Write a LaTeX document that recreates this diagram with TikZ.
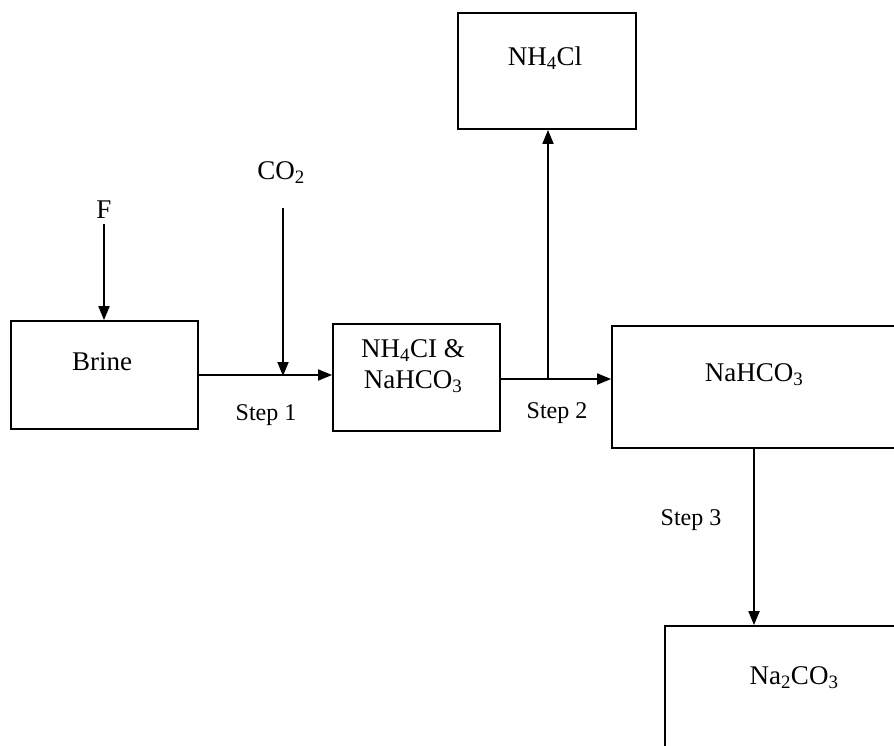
\documentclass[tikz,border=0pt]{standalone}
\usepackage{fontspec}
\setmainfont{Liberation Serif}
\usetikzlibrary{arrows.meta}
\begin{document}
\begin{tikzpicture}[x=1pt,y=-1pt,
  box/.style={draw,line width=1.8pt,minimum width=#1,inner sep=0pt},
  chem/.style={font=\fontsize{27}{30}\selectfont,inner sep=1pt},
  steplabel/.style={font=\fontsize{24}{26}\selectfont,inner sep=1pt},
  conn/.style={line width=1.8pt},
  arr/.style={conn,-{Triangle[length=14pt,width=11pt]}}]
\useasboundingbox (0,0) rectangle (894,745);
\clip (0,0) rectangle (894,745);
\fill[white] (0,0) rectangle (894,745);
% boxes
\node[box=178pt,minimum height=116pt] (nh4cl) at (547,71) {};
\node[box=187pt,minimum height=108pt] (brine) at (104.5,375) {};
\node[box=167pt,minimum height=107pt] (mid) at (416.5,377.5) {};
\node[box=300pt,minimum height=122pt] (nahco) at (762,387) {};
\node[box=260pt,minimum height=160pt] (naco) at (795,706) {};
% texts
\node[chem] (t1) at (545,58) {NH\textsubscript{4}Cl};
\node[chem] (co2) at (281,173) {CO\textsubscript{2}};
\node[chem] (f) at (104,210) {F};
\node[chem] (t2) at (102,362) {Brine};
\node[chem,align=center,font=\fontsize{27}{31}\selectfont] (t3) at (413,366) {NH\textsubscript{4}CI \&\\NaHCO\textsubscript{3}};
\node[chem] (t4) at (754,375) {NaHCO\textsubscript{3}};
\node[chem] (t5) at (794,678) {Na\textsubscript{2}CO\textsubscript{3}};
\node[steplabel] (s1) at (266,415) {Step 1};
\node[steplabel] (s2) at (557,413) {Step 2};
\node[steplabel] (s3) at (691,520) {Step 3};
% connectors
\coordinate (fstart) at (104,224);
\draw[arr] (fstart) -- (fstart |- brine.north);
\draw[arr] (brine.east) -- (brine.east -| mid.west);
\coordinate (cstart) at (283,208);
\coordinate (cend) at (283,376);
\draw[arr] (cstart) -- (cend);
\coordinate (m1) at (mid.east |- 0,379);
\draw[arr] (m1) -- (m1 -| nahco.west);
\coordinate (j2) at (548,379);
\draw[arr] (j2) -- (j2 |- nh4cl.south);
\coordinate (dstart) at (754,448);
\draw[arr] (dstart) -- (dstart |- naco.north);
\end{tikzpicture}
\end{document}
